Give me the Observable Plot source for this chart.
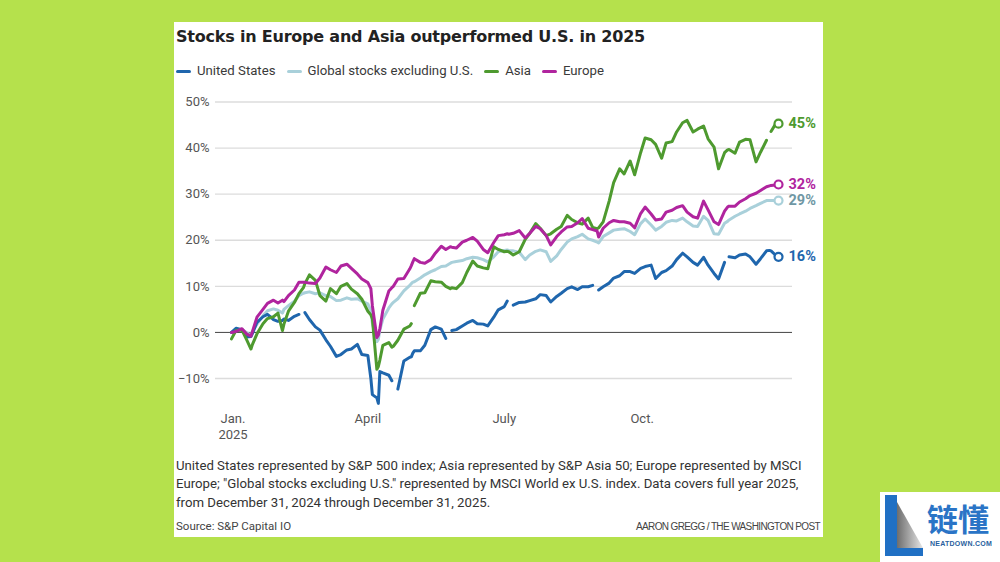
<!DOCTYPE html>
<html>
<head>
<meta charset="utf-8">
<script src="https://cdn.jsdelivr.net/npm/d3@7"></script>
<script src="https://cdn.jsdelivr.net/npm/@observablehq/plot@0.6"></script>
<style>
  html, body { margin:0; padding:0; }
  body { width:1000px; height:562px; overflow:hidden; background:#b5e14c; position:relative; font-family: Roboto, "Liberation Sans", Arial, sans-serif; }
  #card { position:absolute; left:174px; top:22px; width:649px; height:515px; background:#fff; }
  #title { position:absolute; left:2px; top:7px; font: bold 16px/16px "DejaVu Sans", sans-serif; color:#222; white-space:nowrap; }
  #legend { position:absolute; left:2px; top:41px; display:flex; align-items:center; font-size:13.2px; line-height:16px; color:#3a3a3a; white-space:nowrap; }
  .item { display:flex; align-items:center; margin-right:11px; }
  .sw { width:15px; height:3px; border-radius:1.5px; margin-right:6px; }
  #chart { position:absolute; left:0; top:68px; }
  #note { position:absolute; left:2px; top:435px; font-size:13px; line-height:18.3px; color:#333; white-space:nowrap; }
  #note span { display:inline-block; }
  #source { position:absolute; left:2px; top:498px; font-size:11.5px; line-height:12px; color:#444; white-space:nowrap; }
  #credit { position:absolute; right:3px; top:498.5px; font-size:10px; line-height:11px; color:#444; white-space:nowrap; font-family:"Liberation Sans Narrow", "Liberation Sans", sans-serif; }
  #logo { position:absolute; left:880px; top:492px; width:120px; height:70px; background:#fff; }
  #logo .bar { position:absolute; left:5px; top:3px; width:12px; height:61px; background:#2070c4; }
  #logo .tri { position:absolute; left:17px; top:10px; width:26px; height:46px; background:linear-gradient(90deg,#6d6d6d,#e6e6e6); clip-path: polygon(0 0, 100% 100%, 0 100%); }
  #logo .foot { position:absolute; left:5px; top:56px; width:38px; height:8px; background:#2070c4; }
  #logo .cn { position:absolute; left:47px; top:10px; font: bold 31px/31px "Noto Sans CJK SC", sans-serif; color:#2a74c6; white-space:nowrap; }
  #logo .en { position:absolute; left:50px; top:48px; font: bold 7px/8px "Liberation Sans", sans-serif; color:#2a5f9e; letter-spacing:0.3px; white-space:nowrap; }
</style>
</head>
<body>
<div id="card">
  <div id="title">Stocks in Europe and Asia outperformed U.S. in 2025</div>
  <div id="legend"></div>
  <div id="chart"></div>
  <div id="note"><span id="l1">United States represented by S&amp;P 500 index; Asia represented by S&amp;P Asia 50; Europe represented by MSCI</span><br><span>Europe; "Global stocks excluding U.S." represented by MSCI World ex U.S. index. Data covers full year 2025,</span><br><span>from December 31, 2024 through December 31, 2025.</span></div>
  <div id="source">Source: S&amp;P Capital IO</div>
  <div id="credit">AARON GREGG / THE WASHINGTON POST</div>
</div>
<div id="logo"><div class="bar"></div><div class="tri"></div><div class="foot"></div><div class="cn">链懂</div><div class="en" id="en">NEATDOWN.COM</div></div>
<script>
// ---------- DATA ----------
const dates = [
  "2024-12-31",
  "2025-01-03","2025-01-07","2025-01-10","2025-01-13","2025-01-14","2025-01-17","2025-01-21","2025-01-24","2025-01-28","2025-01-31",
  "2025-02-03","2025-02-04","2025-02-07","2025-02-11","2025-02-14","2025-02-17","2025-02-18","2025-02-21","2025-02-25","2025-02-28",
  "2025-03-04","2025-03-07","2025-03-11","2025-03-14","2025-03-18","2025-03-21","2025-03-25","2025-03-28",
  "2025-04-01","2025-04-03","2025-04-04","2025-04-07","2025-04-08","2025-04-09","2025-04-11","2025-04-15","2025-04-17","2025-04-18","2025-04-21","2025-04-25","2025-04-29","2025-04-30",
  "2025-05-01","2025-05-02","2025-05-06","2025-05-09","2025-05-13","2025-05-16","2025-05-20","2025-05-23","2025-05-26","2025-05-27","2025-05-30",
  "2025-06-03","2025-06-06","2025-06-10","2025-06-13","2025-06-17","2025-06-20","2025-06-24","2025-06-27",
  "2025-07-01","2025-07-03","2025-07-04","2025-07-07","2025-07-11","2025-07-15","2025-07-18","2025-07-22","2025-07-25","2025-07-29",
  "2025-08-01","2025-08-05","2025-08-08","2025-08-12","2025-08-15","2025-08-19","2025-08-22","2025-08-26","2025-08-29",
  "2025-09-01","2025-09-02","2025-09-05","2025-09-09","2025-09-12","2025-09-16","2025-09-19","2025-09-23","2025-09-26","2025-09-30",
  "2025-10-03","2025-10-07","2025-10-10","2025-10-14","2025-10-17","2025-10-21","2025-10-24","2025-10-28","2025-10-31",
  "2025-11-04","2025-11-07","2025-11-11","2025-11-14","2025-11-18","2025-11-21","2025-11-25","2025-11-27","2025-11-28",
  "2025-12-02","2025-12-05","2025-12-09","2025-12-12","2025-12-16","2025-12-19","2025-12-23","2025-12-25","2025-12-26","2025-12-29","2025-12-31"
];

// % change since Dec. 31, 2024 (null = market closed)
const usValues = [
  0,
  0.9, 0.6, -1.0, -0.9, -0.2, 2.2, 3.4, 3.9, 2.8, 2.4,
  2.6, 2.9, 2.6, 3.5, 3.9, null, 4.3, 2.8, 1.2, 0.5,
  -1.6, -3.0, -5.2, -4.8, -3.8, -3.6, -2.6, -4.8,
  -5.0, -10.0, -13.5, -14.2, -15.4, -8.5, -8.8, -9.3, -10.5, null, -12.3, -6.2, -5.4, -5.3,
  -4.5, -4.0, -4.0, -2.8, 0.6, 1.2, 0.7, -1.3, null, 0.4, 0.6,
  1.4, 2.0, 2.6, 1.9, 1.8, 1.4, 3.3, 4.9,
  5.6, 6.8, null, 5.9, 6.5, 6.6, 6.9, 7.3, 8.2, 8.0,
  6.6, 7.8, 8.5, 9.5, 9.9, 9.3, 9.9, 9.9, 10.2,
  null, 9.2, 9.9, 10.7, 11.8, 12.3, 13.2, 13.2, 12.8, 13.9,
  14.3, 14.6, 11.7, 13.0, 13.4, 14.4, 15.8, 17.2, 16.4,
  15.2, 14.6, 16.3, 14.6, 12.8, 11.6, 15.2, null, 16.4,
  16.2, 16.8, 17.0, 16.4, 14.8, 16.0, 17.7, 17.8, 17.7, 16.8, 16.4
];
const globalValues = [
  0,
  0.5, 0.6, 0.0, -0.6, 0.2, 1.8, 3.6, 4.7, 5.1, 4.8,
  4.2, 5.0, 5.8, 6.8, 8.0, 8.5, 8.6, 8.8, 8.4, 8.6,
  8.0, 7.8, 6.9, 7.0, 7.5, 7.2, 7.3, 6.8,
  6.2, 4.8, 2.0, -2.0, -1.5, 0.5, 2.9, 5.3, 6.2, 6.5, 7.3, 9.0, 10.2, 10.6,
  10.9, 11.0, 11.8, 12.5, 13.2, 13.6, 14.3, 14.4, 15.0, 15.2, 15.4,
  15.6, 16.0, 16.3, 16.2, 15.8, 15.3, 16.4, 17.5,
  17.8, 17.9, 17.8, 17.7, 17.4, 15.8, 16.8, 17.6, 17.9, 17.5,
  15.4, 16.6, 18.0, 19.6, 20.3, 20.8, 21.3, 20.3, 20.0,
  19.6, 19.4, 20.8, 21.6, 22.2, 22.4, 22.5, 21.9, 21.2, 23.6,
  24.6, 23.3, 22.2, 23.0, 23.9, 24.3, 24.2, 24.8, 24.0,
  23.1, 23.0, 25.2, 24.3, 21.4, 21.3, 23.7, 24.1, 24.4,
  25.2, 25.7, 26.3, 26.9, 27.5, 28.0, 28.6, 28.6, 28.6, 28.6, 28.6
];
const asiaValues = [
  -1.4,
  0.4, 0.5, -1.5, -3.6, -2.6, -0.3, 1.9, 3.0, 3.4, 4.2,
  0.4, 1.8, 4.6, 6.5, 8.4, 9.7, 10.6, 12.5, 11.3, 8.0,
  6.8, 9.5, 8.4, 10.0, 10.6, 9.4, 8.4, 7.2,
  4.6, 3.8, 3.0, -8.0, -7.4, -6.0, -2.8, -2.2, -3.2, -3.0, -1.7, 0.7, 1.4, 1.9,
  null, 5.8, 8.5, 8.6, 11.2, 11.0, 10.9, 10.0, 9.5, 9.7, 9.5,
  10.8, 13.0, 15.5, 14.4, 14.0, 13.8, 18.6, 18.0,
  17.5, 17.6, 17.5, 16.8, 17.5, 20.2, 21.5, 23.6, 22.6, 21.0,
  21.4, 22.4, 23.0, 25.4, 24.5, 23.8, 23.5, 24.8, 22.8,
  22.5, 22.7, 24.0, 28.5, 32.5, 35.5, 34.4, 37.2, 34.2, 39.0,
  42.2, 41.8, 40.8, 37.8, 41.1, 41.4, 43.5, 45.5, 46.0,
  43.5, 44.1, 44.8, 42.0, 40.2, 35.5, 39.0, 39.6, 39.7,
  38.9, 41.3, 41.9, 41.8, 37.0, 39.1, 41.7, null, 43.6, 45.2, 45.3
];
const europeValues = [
  0,
  0.2, 0.8, -0.3, -0.8, 0.2, 3.3, 5.0, 6.3, 7.0, 6.4,
  7.0, 6.7, 8.0, 9.2, 10.9, 10.9, 10.9, 10.7, 10.6, 11.8,
  14.2, 13.6, 13.0, 14.4, 14.8, 13.9, 12.7, 11.6,
  10.8, 9.5, 5.8, -1.1, -0.6, 0.8, 4.8, 9.0, 9.7, 10.0, 11.6, 11.7, 13.8, 14.5,
  15.3, 16.0, 15.2, 15.0, 15.8, 17.2, 18.7, 18.0, 18.6, 18.5, 18.3,
  19.6, 20.0, 20.6, 19.8, 18.0, 17.3, 19.5, 21.0,
  21.2, 21.4, 21.3, 21.5, 22.1, 20.5, 21.5, 23.0, 22.5, 21.0,
  19.0, 20.8, 21.8, 22.9, 23.0, 23.8, 24.7, 22.6, 22.3,
  22.0, 20.7, 22.6, 23.8, 24.3, 24.0, 24.0, 23.7, 22.7, 25.8,
  27.2, 25.7, 24.4, 24.6, 26.1, 26.5, 27.1, 27.5, 26.1,
  25.1, 24.8, 28.5, 26.6, 24.0, 23.4, 26.3, 27.2, 27.4,
  27.4, 28.3, 29.0, 29.7, 30.2, 30.8, 31.6, 31.8, 31.9, 32.0, 32.1
];

const seriesNames  = ["United States", "Global stocks excluding U.S.", "Asia", "Europe"];
const seriesColors = ["#1f66ad", "#a9d0da", "#4e9a2f", "#b0249e"];
const labelColors  = ["#1f66ad", "#6f97a4", "#4e9a2f", "#b0249e"];
const yTicks = [-10, 0, 10, 20, 30, 40, 50];
const xTickDates  = ["2025-01-01", "2025-04-01", "2025-07-01", "2025-10-01"];
const xTickLabels = ["Jan.\n2025", "April", "July", "Oct."];

// ---------- BUILD ----------
const parse = d3.utcParse("%Y-%m-%d");
const seriesValues = [usValues, globalValues, asiaValues, europeValues];
seriesValues.forEach((v, i) => { if (v.length !== dates.length) throw new Error(seriesNames[i] + " length " + v.length + " vs " + dates.length); });
const rows = seriesValues.map((vals, s) => dates.map((d, i) => ({series: seriesNames[s], date: parse(d), value: vals[i]})));
const lastRows = rows.map((r, s) => {
  const last = r[r.length - 1];
  return {...last, label: Math.round(last.value) + "%"};
});
const xLabelMap = new Map(xTickDates.map((d, i) => [+parse(d), xTickLabels[i]]));
const fmtPct = d => (d < 0 ? "\u2212" + Math.abs(d) : d) + "%";
const drawOrder = [1, 0, 2, 3];

// legend
const legend = document.getElementById("legend");
seriesNames.forEach((n, i) => {
  const it = document.createElement("div"); it.className = "item";
  const sw = document.createElement("span"); sw.className = "sw"; sw.style.background = seriesColors[i];
  const tx = document.createElement("span"); tx.textContent = n;
  it.append(sw, tx); legend.append(it);
});

const chart = Plot.plot({
  width: 649, height: 355,
  marginLeft: 41, marginRight: 31, marginTop: 11.5, marginBottom: 67,
  x: {type: "utc", domain: [new Date(Date.UTC(2024, 11, 20, 8)), new Date(Date.UTC(2026, 0, 9, 8))], label: null},
  y: {domain: [-10, 50], label: null},
  style: {fontFamily: "Roboto, 'Liberation Sans', Arial, sans-serif", fontSize: "13px", overflow: "visible", background: "transparent"},
  marks: [
    Plot.gridY(yTicks.filter(t => t !== 0), {stroke: "#dcdcdc", strokeOpacity: 1, strokeWidth: 1.3}),
    Plot.ruleY([0], {stroke: "#444", strokeWidth: 1}),
    Plot.axisY(yTicks, {tickSize: 0, tickPadding: 6, tickFormat: fmtPct, fontSize: 13, fill: "#555", label: null}),
    Plot.axisX(xTickDates.map(parse), {tickSize: 0, tickPadding: 32, tickFormat: d => xLabelMap.get(+d), fontSize: 13, fill: "#555", lineHeight: 1.3, label: null}),
    ...drawOrder.map(i => Plot.line(rows[i], {x: "date", y: "value", stroke: seriesColors[i], strokeWidth: 3, strokeLinejoin: "round", strokeLinecap: "round"})),
    ...drawOrder.map(i => Plot.dot([lastRows[i]], {x: "date", y: "value", r: 4, fill: "white", stroke: seriesColors[i], strokeWidth: 2.2})),
    ...drawOrder.map(i => Plot.text([lastRows[i]], {x: "date", y: "value", text: "label", dx: 10, textAnchor: "start", fill: labelColors[i], fontWeight: "bold", fontSize: 14.5}))
  ]
});
document.getElementById("chart").append(chart);

// ---------- text fitting ----------
function fitSpacing(el, target) {
  el.style.letterSpacing = "0px";
  const w = el.getBoundingClientRect().width;
  el.style.letterSpacing = ((target - w) / el.textContent.length) + "px";
}
fitSpacing(document.getElementById("title"), 469);
fitSpacing(document.getElementById("credit"), 184);
fitSpacing(document.getElementById("en"), 62);
const note = document.getElementById("note");
const l1w = document.getElementById("l1").getBoundingClientRect().width;
note.style.fontSize = Math.max(11.5, Math.min(14, 13 * 626 / l1w)) + "px";
</script>
</body>
</html>
